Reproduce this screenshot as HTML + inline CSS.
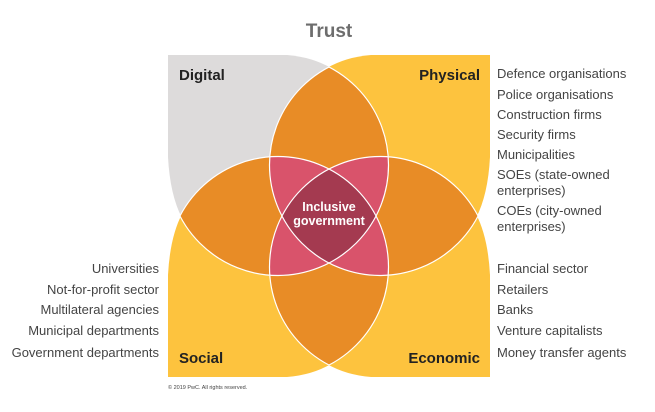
<!DOCTYPE html>
<html><head><meta charset="utf-8"><style>
html,body{margin:0;padding:0;background:#fff;}
svg{display:block;}
text{font-family:"Liberation Sans",Arial,sans-serif;}
.l{font-size:13px;fill:#444;}
.h{font-size:15px;font-weight:bold;fill:#222;}
</style></head><body>
<svg width="655" height="412" viewBox="0 0 655 412" xmlns="http://www.w3.org/2000/svg">
<defs>
<clipPath id="cD"><circle cx="278" cy="165" r="110.5"/></clipPath>
<clipPath id="cP"><circle cx="380" cy="165" r="110.5"/></clipPath>
<clipPath id="cS"><circle cx="278" cy="267" r="110.5"/></clipPath>
<clipPath id="cE"><circle cx="380" cy="267" r="110.5"/></clipPath>
<clipPath id="nD"><circle cx="380" cy="165" r="110.5"/><circle cx="278" cy="267" r="110.5"/><circle cx="380" cy="267" r="110.5"/></clipPath>
<clipPath id="nP"><circle cx="278" cy="165" r="110.5"/><circle cx="278" cy="267" r="110.5"/><circle cx="380" cy="267" r="110.5"/></clipPath>
<clipPath id="nS"><circle cx="278" cy="165" r="110.5"/><circle cx="380" cy="165" r="110.5"/><circle cx="380" cy="267" r="110.5"/></clipPath>
<clipPath id="nE"><circle cx="278" cy="165" r="110.5"/><circle cx="380" cy="165" r="110.5"/><circle cx="278" cy="267" r="110.5"/></clipPath>
</defs>
<text x="329" y="37" text-anchor="middle" style="font-size:19px;font-weight:bold;fill:#6d6d6d">Trust</text>
<!-- base shapes -->
<path d="M168,55 H287 Q312,57 331,68 L340,225 L182,218 Q170,195 168,157 Z" fill="#dddbdb"/>
<path d="M490,55 H371 Q346,57 327,68 L318,225 L476,218 Q488,195 490,157 Z" fill="#fdc33e"/>
<path d="M168,377 H287 Q312,375 331,364 L340,208 L182,214 Q170,237 168,275 Z" fill="#fdc33e"/>
<path d="M490,377 H371 Q346,375 327,364 L318,208 L476,214 Q488,237 490,275 Z" fill="#fdc33e"/>
<!-- pairs -->
<g fill="#e88c26">
<g clip-path="url(#cD)"><circle cx="380" cy="165" r="110.5"/><circle cx="278" cy="267" r="110.5"/><circle cx="380" cy="267" r="110.5"/></g>
<g clip-path="url(#cE)"><circle cx="380" cy="165" r="110.5"/><circle cx="278" cy="267" r="110.5"/></g>
<g clip-path="url(#cP)"><circle cx="278" cy="267" r="110.5"/></g>
</g>
<!-- triples -->
<g fill="#d9536b">
<g clip-path="url(#cD)"><g clip-path="url(#cP)"><circle cx="278" cy="267" r="110.5"/><circle cx="380" cy="267" r="110.5"/></g></g>
<g clip-path="url(#cS)"><g clip-path="url(#cE)"><circle cx="278" cy="165" r="110.5"/><circle cx="380" cy="165" r="110.5"/></g></g>
</g>
<g clip-path="url(#cD)"><g clip-path="url(#cP)"><g clip-path="url(#cS)"><circle cx="380" cy="267" r="110.5" fill="#a43a50"/></g></g></g>
<!-- outlines -->
<g fill="none" stroke="#fff" stroke-width="1.2">
<circle cx="278" cy="165" r="110.5" clip-path="url(#nD)"/>
<circle cx="380" cy="165" r="110.5" clip-path="url(#nP)"/>
<circle cx="278" cy="267" r="110.5" clip-path="url(#nS)"/>
<circle cx="380" cy="267" r="110.5" clip-path="url(#nE)"/>
</g>
<text x="179" y="80" class="h">Digital</text>
<text x="480" y="80" class="h" text-anchor="end">Physical</text>
<text x="179" y="363" class="h">Social</text>
<text x="480" y="363" class="h" text-anchor="end">Economic</text>
<text x="329" y="211" text-anchor="middle" style="font-size:12.5px;font-weight:bold;fill:#fff">Inclusive</text>
<text x="329" y="225" text-anchor="middle" style="font-size:12.5px;font-weight:bold;fill:#fff">government</text>
<g class="l">
<text x="497" y="78" class="l">Defence organisations</text>
<text x="497" y="99" class="l">Police organisations</text>
<text x="497" y="119" class="l">Construction firms</text>
<text x="497" y="139" class="l">Security firms</text>
<text x="497" y="159" class="l">Municipalities</text>
<text x="497" y="179" class="l">SOEs (state-owned</text>
<text x="497" y="195" class="l">enterprises)</text>
<text x="497" y="215" class="l">COEs (city-owned</text>
<text x="497" y="231" class="l">enterprises)</text>
<text x="497" y="273" class="l">Financial sector</text>
<text x="497" y="294" class="l">Retailers</text>
<text x="497" y="314" class="l">Banks</text>
<text x="497" y="335" class="l">Venture capitalists</text>
<text x="497" y="357" class="l">Money transfer agents</text>
<text x="159" y="273" class="l" text-anchor="end">Universities</text>
<text x="159" y="294" class="l" text-anchor="end">Not-for-profit sector</text>
<text x="159" y="314" class="l" text-anchor="end">Multilateral agencies</text>
<text x="159" y="335" class="l" text-anchor="end">Municipal departments</text>
<text x="159" y="357" class="l" text-anchor="end">Government departments</text>
</g>
<text x="168" y="389" style="font-size:5.5px;fill:#444">© 2019 PwC. All rights reserved.</text>
</svg>
</body></html>
